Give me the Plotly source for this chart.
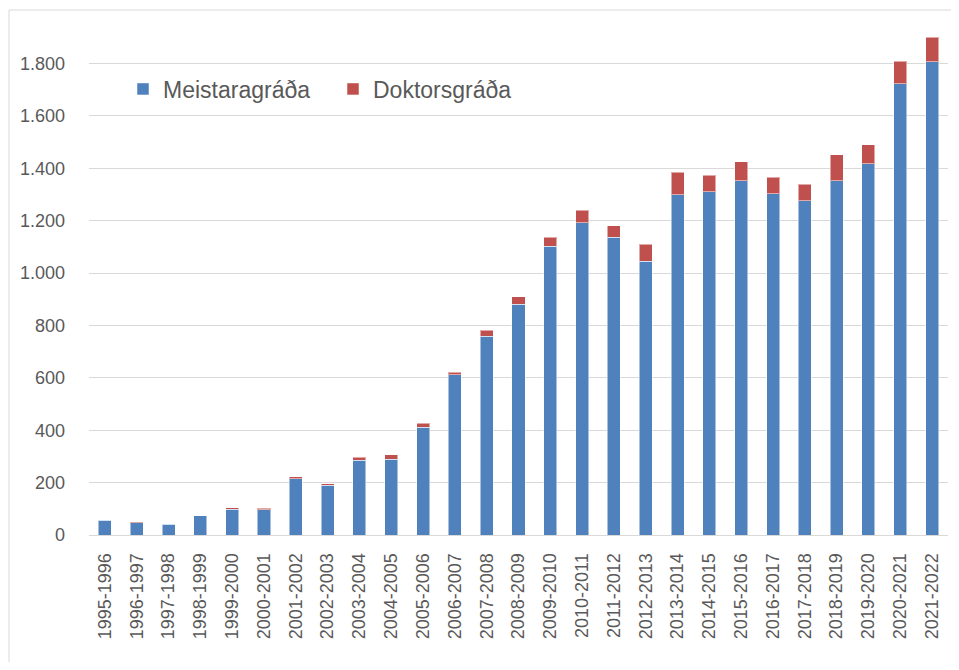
import plotly.graph_objects as go

years = ["1995-1996", "1996-1997", "1997-1998", "1998-1999", "1999-2000", "2000-2001",
         "2001-2002", "2002-2003", "2003-2004", "2004-2005", "2005-2006", "2006-2007",
         "2007-2008", "2008-2009", "2009-2010", "2010-2011", "2011-2012", "2012-2013",
         "2013-2014", "2014-2015", "2015-2016", "2016-2017", "2017-2018", "2018-2019",
         "2019-2020", "2020-2021", "2021-2022"]
meistaragrada = [57, 47, 42, 73, 99, 97, 214, 189, 285, 290, 411, 611, 758, 880, 1103,
                 1191, 1137, 1045, 1298, 1310, 1353, 1302, 1275, 1352, 1417, 1722, 1807]
doktorsgrada = [1, 1, 1, 1, 5, 5, 8, 7, 12, 16, 16, 11, 24, 29, 34,
                48, 43, 64, 86, 64, 72, 64, 63, 100, 73, 87, 92]
y_ticks = [0, 200, 400, 600, 800, 1000, 1200, 1400, 1600, 1800]

FONT = "Liberation Sans, Arial, sans-serif"
GREY = "#595959"

W, H = 943, 654
L, R, T, B = 81, 3, 3, 127
PW = W - L - R
PH = H - T - B

fig = go.Figure()
fig.add_trace(go.Bar(x=years, y=meistaragrada, name="Meistaragráða",
                     marker=dict(color="#4F81BD", line=dict(color="rgba(255,255,255,0.5)", width=1))))
fig.add_trace(go.Bar(x=years, y=doktorsgrada, name="Doktorsgráða",
                     marker=dict(color="#C0504D", line=dict(color="rgba(255,255,255,0.5)", width=1))))

fig.update_layout(
    width=W, height=H,
    barmode="stack", bargap=0.59,
    separators=",.",
    paper_bgcolor="white", plot_bgcolor="white",
    margin=dict(l=L, r=R, t=T, b=B),
    font=dict(family=FONT, color=GREY, size=18),
    legend=dict(orientation="h", x=(115 - L) / PW, y=(PH + T - 81) / PH, xanchor="left", yanchor="middle",
                font=dict(size=23, color=GREY), bgcolor="rgba(0,0,0,0)",
                entrywidth=165, entrywidthmode="pixels", traceorder="normal"),
    xaxis=dict(tickangle=-90, showgrid=False, showline=True, linecolor="#d9d9d9", linewidth=1,
               ticks="", ticklabelstandoff=10, tickfont=dict(size=18, color=GREY)),
    yaxis=dict(range=[0, 2000], tickvals=y_ticks, tickformat=",d", showgrid=True,
               gridcolor="#d9d9d9", gridwidth=1, zeroline=False, showline=False,
               ticks="", ticklabelstandoff=23, tickfont=dict(size=18, color=GREY)),
    shapes=[dict(type="rect", xref="paper", yref="paper",
                 x0=(1 - L) / PW, x1=1.2, y0=-0.5, y1=(PH + 1) / PH,
                 line=dict(color="#d9d9d9", width=1), fillcolor="rgba(0,0,0,0)", layer="below")],
)

fig.write_html("out.html")
